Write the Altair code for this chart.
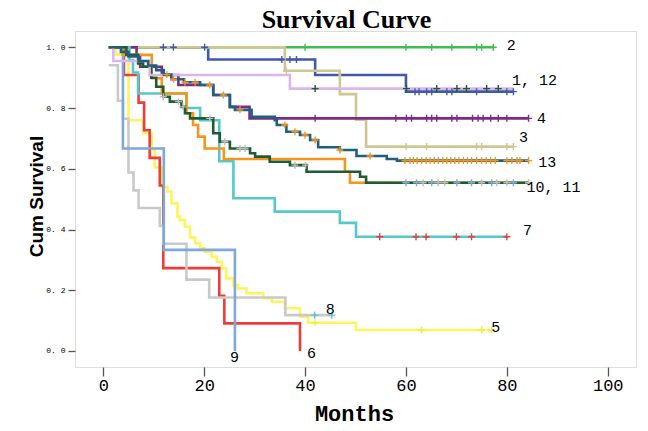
import altair as alt
import pandas as pd

# ---------------- data ----------------
G1_T = [1.1, 20.8, 42.0, 60.0, 81.3]
G1_S = [1.0, 0.96, 0.909, 0.854, 0.854]
G1_C = [11.9, 13.9, 20.1, 35.4, 37.0, 38.3, 61.8, 62.6, 64.1, 65.1, 68.1, 69.1, 74.0, 80.0, 81.3]

G2_T = [1.1, 77.3]
G2_S = [1.0, 1.0]
G2_C = [40.0, 60.0, 65.1, 69.1, 74.0, 75.0, 77.3]

G3_T = [1.1, 36.0, 46.9, 50.1, 52.1, 81.3]
G3_S = [1.0, 0.923, 0.846, 0.762, 0.673, 0.673]
G3_C = [36.3, 60.0, 64.1, 74.0, 75.0, 80.0, 81.3]

G4_T = [1.1, 6.6, 7.3, 11.6, 14.9, 21.8, 25.1, 29.0, 84.3]
G4_S = [1.0, 0.972, 0.936, 0.909, 0.876, 0.843, 0.804, 0.766, 0.766]
G4_C = [42.0, 58.0, 60.1, 61.1, 64.1, 65.1, 66.1, 69.1, 70.1, 73.2, 74.3, 75.3, 76.8, 78.3, 80.0, 84.3]

G5_T = [1.1, 2.5, 5.0, 7.9, 9.6, 10.2, 11.6, 12.7, 13.5, 14.7, 15.2, 16.2, 17.2, 18.2, 19.2,
        20.1, 21.5, 22.5, 23.5, 24.4, 25.8, 26.7, 28.4, 31.7, 33.4, 36.0, 39.0, 40.6, 50.1, 77.0]
G5_S = [1.0, 0.976, 0.76, 0.717, 0.662, 0.605, 0.541, 0.525, 0.486, 0.442, 0.431, 0.409, 0.374, 0.355, 0.338,
        0.327, 0.310, 0.294, 0.272, 0.239, 0.217, 0.206, 0.190, 0.174, 0.162, 0.141, 0.113, 0.093, 0.069, 0.069]
G5_C = [42.0, 63.1, 75.0, 77.0]

G6_T = [1.1, 4.1, 7.0, 8.1, 9.2, 11.2, 11.9, 23.0, 24.0, 39.0]
G6_S = [1.0, 0.909, 0.818, 0.727, 0.636, 0.545, 0.273, 0.182, 0.091, 0.0]
G6_C = []

G7_T = [1.1, 5.2, 5.9, 6.9, 16.5, 19.2, 23.0, 25.8, 34.0, 46.9, 50.1, 80.0]
G7_S = [1.0, 0.958, 0.917, 0.848, 0.80, 0.76, 0.625, 0.503, 0.459, 0.422, 0.376, 0.376]
G7_C = [54.8, 62.0, 64.0, 70.0, 73.0, 80.0]

G8_T = [1.1, 2.9, 3.9, 5.0, 6.0, 7.0, 11.2, 11.9, 16.5, 21.0, 36.1, 45.3]
G8_S = [0.941, 0.824, 0.765, 0.588, 0.529, 0.471, 0.412, 0.353, 0.235, 0.176, 0.118, 0.118]
G8_C = [41.9, 45.3]

G9_T = [1.1, 3.9, 12.0, 26.1]
G9_S = [1.0, 0.667, 0.333, 0.0]
G9_C = []

G10_T = [1.1, 3.9, 9.6, 11.6, 16.5, 17.8, 18.8, 20.1, 23.9, 47.9, 48.9, 84.3]
G10_S = [1.0, 0.975, 0.898, 0.848, 0.783, 0.744, 0.706, 0.667, 0.632, 0.59, 0.554, 0.554]
G10_C = [60.0, 62.1, 65.1, 70.1, 73.0, 77.0, 81.3]

G11_T = [1.1, 4.6, 6.9, 7.9, 9.5, 10.5, 11.9, 13.2, 15.5, 16.2, 17.2, 21.8, 23.1, 25.1, 29.1,
         30.1, 33.0, 37.0, 40.3, 50.9, 52.1, 84.3]
G11_S = [1.0, 0.975, 0.947, 0.936, 0.9, 0.87, 0.837, 0.821, 0.804, 0.783, 0.766, 0.717, 0.689, 0.667, 0.651,
         0.64, 0.623, 0.612, 0.59, 0.574, 0.554, 0.554]
G11_C = [11.9, 14.9, 15.8, 21.1, 24.1, 27.1, 28.1, 38.0, 40.1, 63.4, 66.4, 67.7, 75.0, 78.0, 80.0, 84.3]

G12_T = [1.1, 2.0, 9.2, 37.0, 81.3]
G12_S = [1.0, 0.955, 0.909, 0.864, 0.864]
G12_C = [42.0, 60.1, 66.1, 70.1, 72.0, 76.0, 78.3]

G13_T = [1.1, 3.5, 5.0, 7.0, 8.9, 10.5, 12.0, 13.5, 16.0, 19.2, 21.8, 25.1, 26.1, 29.4, 34.0, 34.4,
         36.3, 39.0, 41.0, 42.6, 46.9, 50.2, 56.2, 58.2, 84.3]
G13_S = [1.0, 0.985, 0.97, 0.955, 0.94, 0.925, 0.91, 0.895, 0.885, 0.876, 0.843, 0.804, 0.794, 0.771, 0.76, 0.744,
         0.722, 0.711, 0.695, 0.671, 0.662, 0.642, 0.632, 0.627, 0.627]
G13_C = [12.6, 13.9, 16.2, 18.2, 21.1, 23.8, 27.1, 36.0, 38.0, 40.0, 42.0, 46.9, 52.9, 59.8, 60.8, 61.5,
         62.2, 63.1, 64.0, 64.8, 65.6, 66.4, 67.3, 68.1, 68.9, 69.7, 70.5, 71.4, 72.2, 73.0, 74.0, 75.0,
         75.9, 76.8, 77.7, 80.0, 81.0, 82.0, 82.6, 84.3]

GROUPS = ["1", "2", "3", "4", "5", "6", "7", "8", "9", "10", "11", "12", "13"]
TIMES = [G1_T, G2_T, G3_T, G4_T, G5_T, G6_T, G7_T, G8_T, G9_T, G10_T, G11_T, G12_T, G13_T]
SURVS = [G1_S, G2_S, G3_S, G4_S, G5_S, G6_S, G7_S, G8_S, G9_S, G10_S, G11_S, G12_S, G13_S]
CENS = [G1_C, G2_C, G3_C, G4_C, G5_C, G6_C, G7_C, G8_C, G9_C, G10_C, G11_C, G12_C, G13_C]

LINE_COLORS = ["#4159A8", "#3CBF4E", "#CFC790", "#7E2B86", "#FFF45E", "#EF3B3B", "#55C8CB",
               "#C9C9C9", "#7EA7DB", "#F7941D", "#1D5C32", "#DBB6EE", "#20607E"]
MARK_COLORS = ["#4159A8", "#3CBF4E", "#CFC790", "#7E2B86", "#F5E94A", "#EF3B3B", "#EF3B3B",
               "#55C8CB", "#7EA7DB", "#7EA7DB", "#BDBDBD", "#1D5C32", "#F7941D"]

LABELS = ["2", "1, 12", "4", "3", "13", "10, 11", "7", "5", "6", "8", "9"]
LABEL_X = [80.0, 81.0, 86.0, 82.4, 86.2, 83.9, 83.2, 76.9, 40.4, 44.1, 25.1]
LABEL_Y = [1.008, 0.892, 0.767, 0.705, 0.623, 0.541, 0.398, 0.080, -0.008, 0.137, -0.019]

X_TICKS = [0, 20, 40, 60, 80, 100]
Y_TICKS = [0.0, 0.2, 0.4, 0.6, 0.8, 1.0]
TITLE = "Survival Curve"

# ---------------- chart ----------------
def surv_at(ts, ss, t):
    v = ss[0]
    for ti, si in zip(ts, ss):
        if ti <= t + 1e-9:
            v = si
    return v

xscale = alt.Scale(domain=[-5.6, 105.6], nice=False, zero=False)
yscale = alt.Scale(domain=[-0.0527, 1.0537], nice=False, zero=False)

xaxis = alt.Axis(values=X_TICKS, tickSize=9, tickColor="#555", tickWidth=1.3, domain=False, grid=False,
                 labelFont="Liberation Mono", labelFontSize=17, labelColor="black", labelPadding=1,
                 title="Months", titleFont="Liberation Mono", titleFontWeight="bold", titleFontSize=22,
                 titleColor="black", titleX=279, titleY=46, titleAlign="center", titleBaseline="middle")
yaxis = alt.Axis(values=Y_TICKS, tickSize=7, tickColor="#555", tickWidth=1.3, domain=False, grid=False,
                 labelFont="Liberation Mono", labelFontSize=8, labelColor="black", labelPadding=3,
                 labelExpr="replace(format(datum.value, '.1f'), '.', '. ')",
                 title="Cum Survival", titleFont="Liberation Sans", titleFontWeight="bold", titleFontSize=19,
                 titleColor="black", titleX=-39, titleY=165, titleAngle=270, titleAlign="center",
                 titleBaseline="middle")

layers = []
for g, ts, ss, col in zip(GROUPS, TIMES, SURVS, LINE_COLORS):
    df = pd.DataFrame({"t": ts, "s": ss})
    layers.append(
        alt.Chart(df).mark_line(color=col, strokeWidth=2.6, interpolate="step-after", clip=True).encode(
            x=alt.X("t:Q", scale=xscale, axis=xaxis),
            y=alt.Y("s:Q", scale=yscale, axis=yaxis),
        )
    )

rows = []
for g, ts, ss, cs, mc in zip(GROUPS, TIMES, SURVS, CENS, MARK_COLORS):
    for c in cs:
        rows.append({"t": c, "s": surv_at(ts, ss, c), "c": mc})
cens_df = pd.DataFrame(rows)
PLUS = "M -1 0 L 1 0 M 0 -1 L 0 1"
layers.append(
    alt.Chart(cens_df).mark_point(shape=PLUS, filled=False, size=49, strokeWidth=1.4, opacity=1).encode(
        x=alt.X("t:Q", scale=xscale, axis=xaxis),
        y=alt.Y("s:Q", scale=yscale, axis=yaxis),
        stroke=alt.Stroke("c:N", scale=None),
    )
)

lab_df = pd.DataFrame({"t": LABEL_X, "s": LABEL_Y, "txt": LABELS})
layers.append(
    alt.Chart(lab_df).mark_text(font="Liberation Mono", fontSize=15, align="left", baseline="middle",
                                color="black").encode(
        x=alt.X("t:Q", scale=xscale, axis=xaxis),
        y=alt.Y("s:Q", scale=yscale, axis=yaxis),
        text="txt:N",
    )
)

title_df = pd.DataFrame({"txt": [TITLE]})
layers.append(
    alt.Chart(title_df).mark_text(font="Liberation Serif", fontSize=26, fontWeight="bold", align="center",
                                  baseline="alphabetic", color="black").encode(
        x=alt.value(271.5), y=alt.value(-3), text="txt:N",
    )
)

chart = alt.layer(*layers).properties(
    width=561, height=336, autosize="none",
    padding={"left": 67, "top": 23, "right": 4, "bottom": 64},
).configure_view(stroke="#666", strokeWidth=1.5).configure(background="white")

chart.save("out.html", embed_options={"renderer": "svg", "actions": False})
